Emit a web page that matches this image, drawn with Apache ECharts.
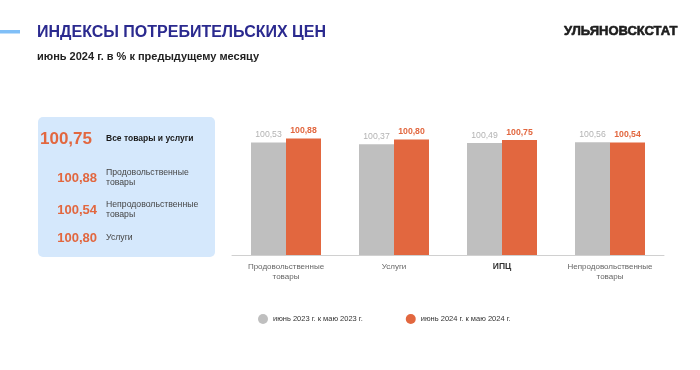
<!DOCTYPE html>
<html><head><meta charset="utf-8">
<script src="https://cdn.jsdelivr.net/npm/echarts@6/dist/echarts.min.js"></script>
<style>html,body{margin:0;padding:0;background:#fff}#c{width:700px;height:370px}</style>
</head><body><div id="c"></div>
<script>
var categories = ['Продовольственные\nтовары', 'Услуги', 'ИПЦ', 'Непродовольственные\nтовары'];
var series2023 = [100.53, 100.37, 100.49, 100.56];
var series2024 = [100.88, 100.80, 100.75, 100.54];
var seriesNames = ['июнь 2023 г. к маю 2023 г.', 'июнь 2024 г. к маю 2024 г.'];
var summaryValues = ['100,75', '100,88', '100,54', '100,80'];
var summaryLabels = ['Все товары и услуги', 'Продовольственные\nтовары', 'Непродовольственные\nтовары', 'Услуги'];

var FONT = 'Liberation Sans, Arial, sans-serif';
var ORANGE = '#e2673f', GRAY = '#bfbfbf';
function fmt(v){ return v.toFixed(2).replace('.', ','); }

var chart = echarts.init(document.getElementById('c'));
var rowsY = [139, 178, 210, 238];
var boxItems = [];
boxItems.push({type:'rect', shape:{x:38,y:117,width:177,height:140,r:5}, style:{fill:'#d5e8fc'}});
for (var i=0;i<summaryValues.length;i++){
  var big = i===0;
  boxItems.push({type:'text', x: big?92:97, y: rowsY[i], style:{text:summaryValues[i], fill:ORANGE, font:'bold '+(big?17:13)+'px '+FONT, align:'right', verticalAlign:'middle'}});
  boxItems.push({type:'text', x:106, y: rowsY[i], style:{text:summaryLabels[i], fill: big?'#1a1a1a':'#444', font:(big?'bold 8.5px ':'8.7px ')+FONT, align:'left', verticalAlign:'middle', lineHeight:10}});
}

chart.setOption({
  animation:false,
  title:[
    {text:'ИНДЕКСЫ ПОТРЕБИТЕЛЬСКИХ ЦЕН', left:37, top:25, padding:0, textStyle:{color:'#2b2a8f', fontSize:16, fontWeight:'bold', fontFamily:FONT}},
    {text:'июнь 2024 г. в % к предыдущему месяцу', left:37, top:51, padding:0, textStyle:{color:'#222', fontSize:11, fontWeight:'bold', fontFamily:FONT}},
    {text:'УЛЬЯНОВСКСТАТ', right:22, top:25, padding:0, textStyle:{color:'#1e1e1e', fontSize:13, fontWeight:'bold', fontFamily:FONT, textBorderColor:'#1e1e1e', textBorderWidth:0.6}}
  ],
  graphic: [{type:'rect', shape:{x:0,y:30,width:20,height:3.5}, style:{fill:'#80bff7'}}].concat(boxItems),
  legend:{
    top:314, left:258, padding:0, itemGap:43, icon:'circle', itemWidth:10, itemHeight:10,
    textStyle:{fontSize:7.5, color:'#333', fontFamily:FONT},
    data: seriesNames
  },
  grid:{left:232, right:36, top:126, bottom:115},
  xAxis:{type:'category', data:categories,
    axisLine:{lineStyle:{color:'#d0d0d0'}}, axisTick:{show:false},
    axisLabel:{interval:0, color:'#666', fontSize:8, fontFamily:FONT, margin:7, lineHeight:10,
      formatter:function(v){ return v==='ИПЦ' ? '{b|'+v+'}' : v; },
      rich:{b:{fontWeight:'bold', color:'#333', fontSize:8.5, fontFamily:FONT}}}},
  yAxis:{type:'value', min:90.5, max:102, show:false, splitLine:{show:false}},
  series:[
    {name:seriesNames[0], type:'bar', data:series2023, barWidth:35, barGap:'0%', itemStyle:{color:GRAY},
      label:{show:true, position:'top', distance:3, color:'#b3b3b3', fontSize:8.7, fontFamily:FONT, formatter:function(p){return fmt(p.value);}}},
    {name:seriesNames[1], type:'bar', data:series2024, barWidth:35, itemStyle:{color:ORANGE},
      label:{show:true, position:'top', distance:3, color:ORANGE, fontSize:8.7, fontWeight:'bold', fontFamily:FONT, formatter:function(p){return fmt(p.value);}}}
  ]
});
</script></body></html>
